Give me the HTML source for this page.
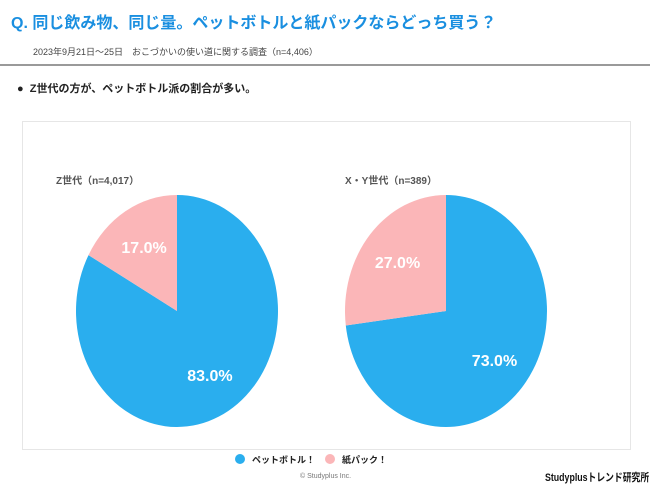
<!DOCTYPE html>
<html><head><meta charset="utf-8">
<style>
body{margin:0;width:650px;height:488px;background:#fff;font-family:"Liberation Sans","Noto Sans CJK JP",sans-serif;position:relative;overflow:hidden}
.abs{position:absolute;white-space:nowrap}
</style></head><body>
<div class="abs" style="left:11px;top:9px;font-size:16px;font-weight:bold;color:#1a8fe0">Q. 同じ飲み物、同じ量。ペットボトルと紙パックならどっち買う？</div>
<div class="abs" style="left:33px;top:45px;font-size:9px;color:#444">2023年9月21日～25日　おこづかいの使い道に関する調査（n=4,406）</div>
<div class="abs" style="left:0;top:64px;width:650px;height:2px;background:#9a9a9a"></div>
<div class="abs" style="left:17px;top:80px;font-size:11px;font-weight:bold;color:#222">●&nbsp;&nbsp;Z世代の方が、ペットボトル派の割合が多い。</div>
<div class="abs" style="left:22px;top:121px;width:607px;height:327px;border:1px solid #e6e6e6"></div>
<svg class="abs" id="chart" width="650" height="488" style="left:0;top:0"></svg>
<div class="abs" style="left:300px;top:473px;font-size:7px;color:#777">© Studyplus Inc.</div>
<div class="abs" style="left:545px;top:469px;font-size:11px;font-weight:bold;color:#111;transform-origin:0 0;transform:scaleX(0.8)">Studyplusトレンド研究所</div>
<script>
const groups=["Z世代（n=4,017）","X・Y世代（n=389）"];
const petValues=[83.0,73.0];
const paperValues=[17.0,27.0];
const seriesNames=["ペットボトル！","紙パック！"];
const colors=["#2aaeee","#fbb6b8"];
const centersX=[177,446];
const cy=311,rx=101,ry=116;
const svg=document.getElementById('chart');
const NS="http://www.w3.org/2000/svg";
function pt(cx,a,f){return [cx+rx*f*Math.sin(a),cy-ry*f*Math.cos(a)];}
groups.forEach((g,i)=>{
  const cx=centersX[i];
  const vals=[petValues[i],paperValues[i]];
  const tot=vals[0]+vals[1];
  let a0=0;
  vals.forEach((v,j)=>{
    const a1=a0+v/tot*2*Math.PI;
    const p0=pt(cx,a0,1),p1=pt(cx,a1,1);
    const large=(a1-a0)>Math.PI?1:0;
    const path=document.createElementNS(NS,'path');
    path.setAttribute('d',`M${cx},${cy}L${p0[0]},${p0[1]}A${rx},${ry} 0 ${large} 1 ${p1[0]},${p1[1]}Z`);
    path.setAttribute('fill',colors[j]);
    
    
    svg.appendChild(path);
    const m=pt(cx,(a0+a1)/2,0.64);
    const t=document.createElementNS(NS,'text');
    t.setAttribute('x',m[0]);t.setAttribute('y',m[1]+6);
    t.setAttribute('text-anchor','middle');t.setAttribute('fill','#fff');
    t.setAttribute('font-size','16');t.setAttribute('font-weight','bold');
    t.textContent=v.toFixed(1)+'%';
    
    
    svg.appendChild(t);
    a0=a1;
  });
  const gt=document.createElementNS(NS,'text');
  gt.setAttribute('x',cx-121+(i?20:0));gt.setAttribute('y',184);
  gt.setAttribute('font-size','10');gt.setAttribute('font-weight','bold');gt.setAttribute('fill','#555');
  gt.textContent=g;
  
  
  svg.appendChild(gt);
});
const legX=[240,330];
seriesNames.forEach((s,j)=>{
  const c=document.createElementNS(NS,'circle');
  c.setAttribute('cx',legX[j]);c.setAttribute('cy',459);c.setAttribute('r',5);c.setAttribute('fill',colors[j]);
  
  
  svg.appendChild(c);
  const t=document.createElementNS(NS,'text');
  t.setAttribute('x',legX[j]+12);t.setAttribute('y',463);
  t.setAttribute('font-size','9');t.setAttribute('font-weight','bold');t.setAttribute('fill','#222');
  t.textContent=s;
  
  
  svg.appendChild(t);
});
</script>
</body></html>
